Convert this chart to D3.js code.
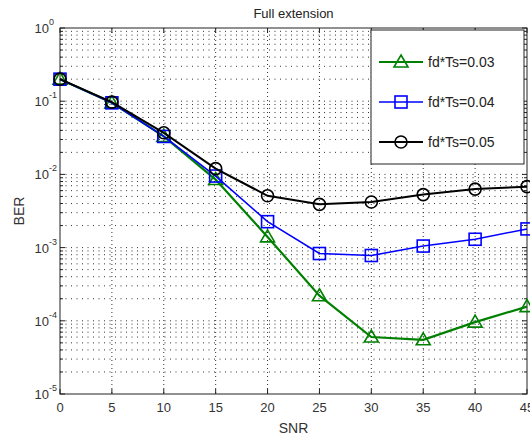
<!DOCTYPE html>
<html>
<head>
<meta charset="utf-8">
<script src="https://cdn.jsdelivr.net/npm/d3@7"></script>
<style>
  html, body { margin: 0; padding: 0; background: #fff; overflow: hidden; }
  svg { display: block; }
  text { font-family: Arial, "Liberation Sans", sans-serif; }
</style>
</head>
<body>
<script>
// data
const snr = [0, 5, 10, 15, 20, 25, 30, 35, 40, 45];
const berFd003 = [0.2, 0.095, 0.033, 0.0085, 0.0014, 0.00022, 0.00006, 0.000055, 0.000096, 0.000156];
const berFd004 = [0.2, 0.095, 0.033, 0.0095, 0.00226, 0.00083, 0.00078, 0.00105, 0.0013, 0.0018];
const berFd005 = [0.2, 0.097, 0.037, 0.012, 0.0051, 0.0039, 0.0042, 0.0053, 0.0063, 0.0068];
const seriesNames = ['fd*Ts=0.03', 'fd*Ts=0.04', 'fd*Ts=0.05'];
const xTicks = [0, 5, 10, 15, 20, 25, 30, 35, 40, 45];
const yExponents = [0, -1, -2, -3, -4, -5];

const width = 530, height = 439;
const margin = { left: 60, top: 28, right: 3, bottom: 45 };
const innerWidth = width - margin.left - margin.right;
const innerHeight = height - margin.top - margin.bottom;

const svg = d3.select('body').append('svg')
  .attr('width', width)
  .attr('height', height);

const g = svg.append('g')
  .attr('transform', `translate(${margin.left},${margin.top})`);

const x = d3.scaleLinear().domain([0, 45]).range([0, innerWidth]);
const y = d3.scaleLog().domain([1e-5, 1]).range([innerHeight, 0]);

// minor values for the log grid
let minorVals = [];
for (let e = -5; e < 0; e++) {
  for (let m = 2; m <= 9; m++) minorVals.push(m * Math.pow(10, e));
}

// grid (dotted, matlab style)
const grid = g.append('g').attr('stroke', '#333').attr('stroke-width', 1).attr('fill', 'none');
xTicks.slice(1, -1).forEach(t => {
  grid.append('line').attr('x1', x(t)).attr('x2', x(t)).attr('y1', 0).attr('y2', innerHeight)
    .attr('stroke-dasharray', '1,3');
});
minorVals.concat(yExponents.slice(1, -1).map(e => Math.pow(10, e))).forEach(v => {
  grid.append('line').attr('x1', 0).attr('x2', innerWidth).attr('y1', y(v)).attr('y2', y(v))
    .attr('stroke-dasharray', '1,4.5');
});

// axes box
g.append('rect').attr('width', innerWidth).attr('height', innerHeight)
  .attr('fill', 'none').attr('stroke', '#222').attr('stroke-width', 1);

// ticks (inside, matlab style)
const ticks = g.append('g').attr('stroke', '#222').attr('stroke-width', 1);
xTicks.forEach(t => {
  ticks.append('line').attr('x1', x(t)).attr('x2', x(t)).attr('y1', innerHeight).attr('y2', innerHeight - 5);
  ticks.append('line').attr('x1', x(t)).attr('x2', x(t)).attr('y1', 0).attr('y2', 5);
});
yExponents.forEach(e => {
  const yy = y(Math.pow(10, e));
  ticks.append('line').attr('x1', 0).attr('x2', 5).attr('y1', yy).attr('y2', yy);
  ticks.append('line').attr('x1', innerWidth).attr('x2', innerWidth - 5).attr('y1', yy).attr('y2', yy);
});
minorVals.forEach(v => {
  ticks.append('line').attr('x1', 0).attr('x2', 3).attr('y1', y(v)).attr('y2', y(v));
  ticks.append('line').attr('x1', innerWidth).attr('x2', innerWidth - 3).attr('y1', y(v)).attr('y2', y(v));
});

// tick labels
g.append('g').selectAll('text').data(xTicks).enter().append('text')
  .attr('x', d => x(d)).attr('y', innerHeight + 18)
  .attr('text-anchor', 'middle').attr('font-size', 13).attr('fill', '#333')
  .text(d => d);

// y labels: base and exponent as separate texts
const ylab = g.append('g').attr('fill', '#333');
ylab.selectAll('text.base').data(yExponents).enter().append('text')
  .attr('class', 'base')
  .attr('x', -11).attr('y', d => y(Math.pow(10, d)) + 5)
  .attr('text-anchor', 'end').attr('font-size', 13)
  .text('10');
ylab.selectAll('text.exp').data(yExponents).enter().append('text')
  .attr('class', 'exp')
  .attr('x', -11).attr('y', d => y(Math.pow(10, d)) - 3)
  .attr('text-anchor', 'start').attr('font-size', 9)
  .text(d => d);

// titles
svg.append('text').attr('x', margin.left + innerWidth / 2).attr('y', 18)
  .attr('text-anchor', 'middle').attr('font-size', 13).attr('fill', '#222').text('Full extension');
svg.append('text').attr('x', margin.left + innerWidth / 2).attr('y', height - 6)
  .attr('text-anchor', 'middle').attr('font-size', 14).attr('fill', '#333').text('SNR');
svg.append('text').attr('transform', `translate(24,${margin.top + innerHeight / 2}) rotate(-90)`)
  .attr('text-anchor', 'middle').attr('font-size', 14).attr('fill', '#333').text('BER');

// series
const series = [
  { name: seriesNames[0], values: berFd003, color: '#008000', marker: 'triangle', lw: 2.2 },
  { name: seriesNames[1], values: berFd004, color: '#0000ff', marker: 'square', lw: 1.6 },
  { name: seriesNames[2], values: berFd005, color: '#000000', marker: 'circle', lw: 2 }
];

function drawMarker(sel, type, color) {
  if (type === 'triangle') {
    sel.append('path').attr('d', 'M0,-7L7,5L-7,5Z');
  } else if (type === 'square') {
    sel.append('rect').attr('x', -6).attr('y', -6).attr('width', 12).attr('height', 12);
  } else {
    sel.append('circle').attr('r', 6);
  }
  sel.selectAll('*').attr('fill', 'none').attr('stroke', color).attr('stroke-width', 1.6);
}

const line = d3.line().x((d, i) => x(snr[i])).y(d => y(d));

series.forEach(s => {
  g.append('path').datum(s.values).attr('d', line)
    .attr('fill', 'none').attr('stroke', s.color).attr('stroke-width', s.lw);
  s.values.forEach((v, i) => {
    const m = g.append('g').attr('transform', `translate(${x(snr[i])},${y(v)})`);
    drawMarker(m, s.marker, s.color);
  });
});

// legend
const lg = g.append('g').attr('transform', `translate(${371 - margin.left},${30 - margin.top})`);
lg.append('rect').attr('width', 153).attr('height', 134)
  .attr('fill', '#fff').attr('stroke', '#222').attr('stroke-width', 1);
series.forEach((s, i) => {
  const row = lg.append('g').attr('transform', `translate(0,${32 + i * 40})`);
  row.append('line').attr('x1', 8).attr('x2', 52).attr('y1', 0).attr('y2', 0)
    .attr('stroke', s.color).attr('stroke-width', s.lw);
  const m = row.append('g').attr('transform', 'translate(30,0)');
  drawMarker(m, s.marker, s.color);
  row.append('text').attr('x', 57).attr('y', 5).attr('font-size', 14).attr('fill', '#222').text(s.name);
});
</script>
</body>
</html>
